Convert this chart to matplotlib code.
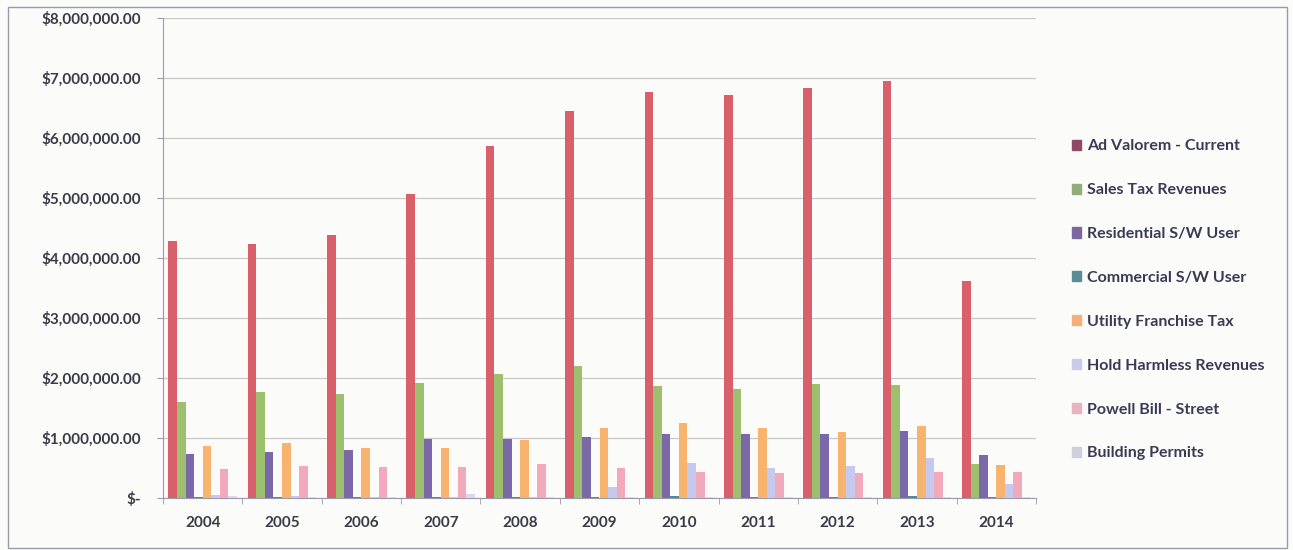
import matplotlib
matplotlib.use("Agg")
import matplotlib.pyplot as plt
from matplotlib.patches import Rectangle
import numpy as np

years = ["2004", "2005", "2006", "2007", "2008", "2009", "2010", "2011", "2012", "2013", "2014"]
series_names = ["Ad Valorem - Current", "Sales Tax Revenues", "Residential S/W User",
                "Commercial S/W User", "Utility Franchise Tax", "Hold Harmless Revenues",
                "Powell Bill - Street", "Building Permits"]

ad_valorem = [4280000, 4230000, 4380000, 5070000, 5860000, 6450000, 6770000, 6720000, 6840000, 6950000, 3620000]
sales_tax = [1600000, 1760000, 1730000, 1920000, 2060000, 2200000, 1870000, 1820000, 1900000, 1880000, 570000]
residential = [730000, 760000, 800000, 990000, 980000, 1010000, 1070000, 1070000, 1070000, 1120000, 720000]
commercial = [20000, 20000, 20000, 20000, 20000, 20000, 30000, 20000, 20000, 30000, 10000]
utility = [860000, 920000, 830000, 830000, 960000, 1170000, 1250000, 1160000, 1100000, 1200000, 550000]
hold_harmless = [50000, 30000, 20000, 20000, 20000, 180000, 580000, 500000, 530000, 660000, 230000]
powell = [480000, 530000, 520000, 510000, 570000, 500000, 430000, 420000, 420000, 430000, 430000]
building = [30000, 20000, 20000, 60000, 15000, 10000, 10000, 10000, 10000, 10000, 10000]

all_series = [ad_valorem, sales_tax, residential, commercial, utility, hold_harmless, powell, building]
colors = ["#D95F6B", "#9DC06E", "#7B68A8", "#4A8C9C", "#F8B36E", "#C6C9EE", "#F2A9BB", "#D9D9EA"]
legend_colors = ["#8E4A62", "#93AD7A", "#7B68A0", "#5A8C98", "#F5B07A", "#C8CBEA", "#E8B3BF", "#CFCFDE"]

plt.rcParams['font.family'] = ['Lato', 'DejaVu Sans']

fig = plt.figure(figsize=(12.93, 5.5), dpi=100)
fig.patch.set_facecolor("#FBFCFA")
W, H = 1293, 550

# outer border
fig.add_artist(Rectangle((8 / W, 1 - 548 / H), (1287 - 8) / W, (548 - 7) / H,
                         transform=fig.transFigure, fill=False, edgecolor="#9A9AA8", linewidth=1.0))

ax = fig.add_axes([163 / W, 1 - 498 / H, (1036 - 163) / W, (498 - 18) / H])
ax.set_facecolor("#FBFCFA")

n = len(years)
x = np.arange(n)
nser = len(all_series)
bar_w = 0.108
offsets = (np.arange(nser) - (nser - 1) / 2) * bar_w
for i, (vals, col, name) in enumerate(zip(all_series, colors, series_names)):
    ax.bar(x + offsets[i], vals, width=bar_w, color=col, label=name, zorder=3, linewidth=0)

ax.set_xlim(-0.5, n - 0.5)
ax.set_ylim(0, 8000000)
yt = np.arange(0, 8000001, 1000000)
ax.set_yticks(yt)
ax.set_yticklabels(["$-" if v == 0 else "${:,.2f}".format(v) for v in yt])
ax.set_xticks(x)
ax.set_xticklabels(years)
ax.set_xticks(np.arange(-0.5, n, 1), minor=True)
ax.tick_params(axis="x", which="major", length=0, pad=13, labelsize=11, colors="#3A3A48")
ax.tick_params(axis="x", which="minor", length=4, color="#9A9AA8", direction="out")
ax.tick_params(axis="y", length=4, color="#9A9AA8", pad=12, labelsize=11, colors="#3A3A48")
for lab in ax.get_xticklabels() + ax.get_yticklabels():
    lab.set_fontweight("bold")
    lab.set_color("#3A3A48")
ax.grid(axis="y", color="#C8C8C8", linewidth=0.9, zorder=0)
for s in ["top", "right"]:
    ax.spines[s].set_visible(False)
ax.spines["left"].set_color("#9A9AA8")
ax.spines["bottom"].set_color("#9A9AA8")

handles = [Rectangle((0, 0), 1, 1, color=c) for c in legend_colors]
leg = fig.legend(handles, series_names, loc="upper left", bbox_to_anchor=(1058 / W, 1 - 125 / H),
                 frameon=False, fontsize=11.5, handlelength=0.55, handleheight=0.6,
                 handletextpad=0.35, labelspacing=1.87)
for t in leg.get_texts():
    t.set_color("#3A3A55")
    t.set_fontweight("bold")

fig.savefig("out.png", dpi=100, facecolor=fig.get_facecolor())
